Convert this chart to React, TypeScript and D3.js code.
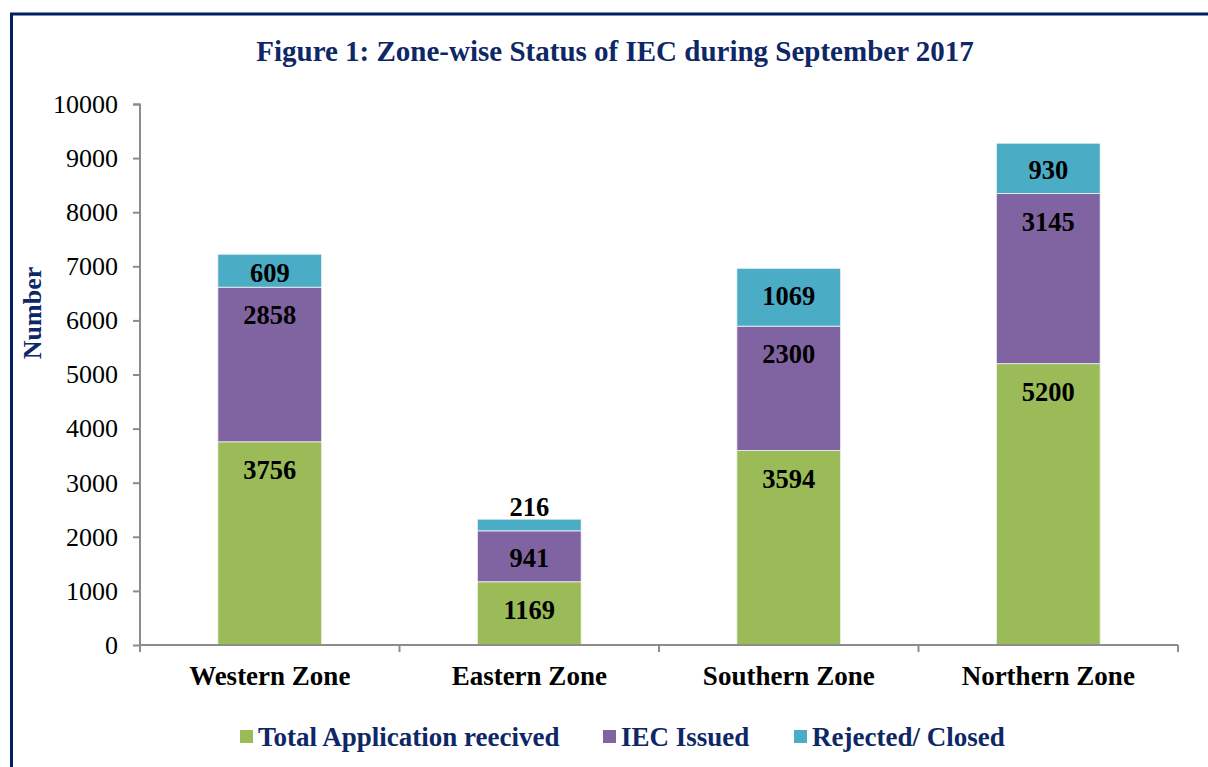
import React, { useEffect, useRef } from 'react';
import * as d3 from 'd3';

const zones = ['Western Zone', 'Eastern Zone', 'Southern Zone', 'Northern Zone'];
const seriesNames = ['Total Application reecived', 'IEC Issued', 'Rejected/ Closed'];
const received = [3756, 1169, 3594, 5200];
const issued = [2858, 941, 2300, 3145];
const rejected = [609, 216, 1069, 930];
const yTicks = [0, 1000, 2000, 3000, 4000, 5000, 6000, 7000, 8000, 9000, 10000];
const colors = ['#9BBB59', '#8064A2', '#4BACC6'];

const navy = '#0E2766';
const serif = '"Liberation Serif", "Times New Roman", serif';

const App = () => {
  const ref = useRef<SVGSVGElement>(null);

  useEffect(() => {
    const margin = { top: 104, left: 140 },
      width = 1038,
      height = 541;

    const svg = d3.select(ref.current);
    svg.selectAll('*').remove();

    // frame
    svg
      .append('rect')
      .attr('x', 11.5)
      .attr('y', 14)
      .attr('width', 1400)
      .attr('height', 900)
      .attr('fill', 'none')
      .attr('stroke', '#002060')
      .attr('stroke-width', 3);

    svg
      .append('text')
      .attr('x', 615)
      .attr('y', 61)
      .attr('text-anchor', 'middle')
      .attr('font-family', serif)
      .attr('font-weight', 'bold')
      .attr('font-size', 29)
      .attr('fill', navy)
      .text('Figure 1: Zone-wise Status of IEC during September 2017');

    const g = svg.append('g').attr('transform', `translate(${margin.left},${margin.top})`);

    const x = d3.scaleBand().domain(zones).range([0, width]).paddingInner(0).paddingOuter(0);
    const y = d3.scaleLinear().domain([0, 10000]).range([height, 0]);

    // y axis
    const yAxis = g.append('g').call(d3.axisLeft(y).tickValues(yTicks).tickSize(7).tickPadding(15).tickFormat(d3.format('d')));
    yAxis.select('.domain').attr('stroke', '#8c8c8c').attr('stroke-width', 2).attr('d', `M-7,0.5H0V${height}`);
    yAxis.selectAll('.tick line').attr('stroke', '#8c8c8c').attr('stroke-width', 2);
    yAxis.selectAll('.tick text').attr('font-family', serif).attr('font-size', 26).attr('fill', '#000');

    g.append('text')
      .attr('transform', `translate(${35 - margin.left},${313 - margin.top}) rotate(-90)`)
      .attr('text-anchor', 'middle')
      .attr('dominant-baseline', 'middle')
      .attr('font-family', serif)
      .attr('font-weight', 'bold')
      .attr('font-size', 26)
      .attr('fill', navy)
      .text('Number');

    // stacked bars
    const rows = zones.map((z, i) => ({ zone: z, a: received[i], b: issued[i], c: rejected[i] }));
    const stacked = d3.stack<any>().keys(['a', 'b', 'c'])(rows);
    const bw = x.bandwidth() * 0.4;

    stacked.forEach((layer, li) => {
      const lg = g.append('g');
      lg.selectAll('rect')
        .data(layer)
        .enter()
        .append('rect')
        .attr('x', (d: any) => x(d.data.zone)! + (x.bandwidth() - bw) / 2)
        .attr('y', (d) => y(d[1]))
        .attr('width', bw)
        .attr('height', (d) => y(d[0]) - y(d[1]))
        .attr('fill', colors[li])
        .attr('stroke', '#f4f4f4')
        .attr('stroke-width', 0.8);

      lg.selectAll('text')
        .data(layer)
        .enter()
        .append('text')
        .attr('x', (d: any) => x(d.data.zone)! + x.bandwidth() / 2)
        .attr('y', (d) => {
          const top = y(d[1]);
          const bot = y(d[0]);
          if (bot - top < 20) return top - 12;
          return Math.min(top + 28, (top + bot) / 2 + 2);
        })
        .attr('text-anchor', 'middle')
        .attr('dominant-baseline', 'central')
        .attr('font-family', serif)
        .attr('font-weight', 'bold')
        .attr('font-size', 26.5)
        .attr('fill', '#000')
        .text((d) => String(d[1] - d[0]));
    });

    // x axis
    const xAxis = g
      .append('g')
      .attr('transform', `translate(0,${height})`)
      .call(d3.axisBottom(x).tickSize(0).tickPadding(21));
    xAxis.select('.domain').attr('stroke', '#8c8c8c').attr('stroke-width', 2).attr('d', `M0,0H${width}`);
    xAxis.selectAll('.tick text').attr('font-family', serif).attr('font-weight', 'bold').attr('font-size', 27).attr('fill', '#000');
    g.append('g')
      .selectAll('line')
      .data(d3.range(zones.length + 1))
      .enter()
      .append('line')
      .attr('x1', (i) => i * x.step())
      .attr('x2', (i) => i * x.step())
      .attr('y1', height)
      .attr('y2', height + 7)
      .attr('stroke', '#8c8c8c')
      .attr('stroke-width', 2);

    // legend
    const legendX = [240, 603, 794];
    seriesNames.forEach((name, i) => {
      svg
        .append('rect')
        .attr('x', legendX[i])
        .attr('y', 730)
        .attr('width', 13)
        .attr('height', 13)
        .attr('fill', colors[i]);
      svg
        .append('text')
        .attr('x', legendX[i] + 18)
        .attr('y', 746)
        .attr('font-family', serif)
        .attr('font-weight', 'bold')
        .attr('font-size', 27)
        .attr('fill', navy)
        .text(name);
    });
  }, []);

  return (
    <svg
      ref={ref}
      width={1208}
      height={767}
      style={{ position: 'absolute', left: 0, top: 0, background: '#fff', display: 'block' }}
    />
  );
};

export default App;
